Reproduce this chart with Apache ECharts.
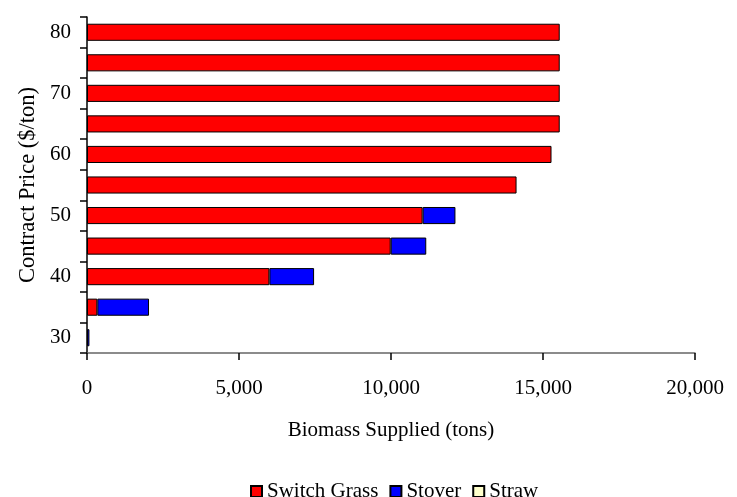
<!DOCTYPE html>
<html>
<head>
<meta charset="utf-8">
<script src="https://cdn.jsdelivr.net/npm/echarts@6/dist/echarts.min.js"></script>
<style>
  html, body { margin: 0; padding: 0; background: #fff; }
  #chart { width: 737px; height: 497px; }
</style>
</head>
<body>
<div id="chart"></div>
<script>
// Contract price levels ($/ton), bottom to top
const prices = ['30', '35', '40', '45', '50', '55', '60', '65', '70', '75', '80'];
// Biomass supplied at each price (tons), by feedstock
const switchGrass = [0, 340, 6000, 9990, 11040, 14130, 15280, 15550, 15550, 15550, 15550];
const stover      = [80, 1700, 1470, 1170, 1080, 0, 0, 0, 0, 0, 0];
const straw       = [0, 0, 0, 0, 0, 0, 0, 0, 0, 0, 0];
const xTicks = [0, 5000, 10000, 15000, 20000];

const FONT = '"Liberation Serif", "Times New Roman", serif';
const chart = echarts.init(document.getElementById('chart'), null, { renderer: 'canvas' });

const asBar = arr => arr.map(v => (v === 0 ? '-' : v));
const barStyle = color => ({ color: color, borderColor: '#000', borderWidth: 1 });

chart.setOption({
  animation: false,
  textStyle: { fontFamily: FONT, color: '#000' },
  grid: { left: 87, right: 42, top: 17, bottom: 144, containLabel: false },
  legend: {
    top: 476,
    left: 245,
    padding: 5,
    itemWidth: 11,
    itemHeight: 11,
    itemGap: 11,
    icon: 'rect',
    textStyle: { fontFamily: FONT, fontSize: 21, color: '#000' },
    data: ['Switch Grass', 'Stover', 'Straw']
  },
  xAxis: {
    type: 'value',
    min: xTicks[0],
    max: xTicks[xTicks.length - 1],
    interval: xTicks[1] - xTicks[0],
    name: 'Biomass Supplied (tons)',
    nameLocation: 'middle',
    nameGap: 67,
    nameTextStyle: { fontFamily: FONT, fontSize: 21, color: '#000' },
    axisLine: { show: true, lineStyle: { color: '#666', width: 1.5 } },
    axisTick: { show: true, inside: false, length: 7, lineStyle: { color: '#000', width: 1.5 } },
    axisLabel: {
      fontFamily: FONT, fontSize: 21, color: '#000', margin: 25,
      formatter: v => v.toLocaleString('en-US')
    },
    splitLine: { show: false }
  },
  yAxis: {
    type: 'category',
    data: prices,
    boundaryGap: true,
    name: 'Contract Price ($/ton)',
    nameLocation: 'middle',
    nameGap: 47,
    nameRotate: 90,
    nameTextStyle: { fontFamily: FONT, fontSize: 22.5, color: '#000' },
    axisLine: { show: true, lineStyle: { color: '#000', width: 1.5 } },
    axisTick: { show: true, interval: 0, length: 7, lineStyle: { color: '#000', width: 1.5 } },
    axisLabel: { fontFamily: FONT, fontSize: 21, color: '#000', margin: 16, interval: 1 },
    splitLine: { show: false }
  },
  series: [
    {
      name: 'Switch Grass', type: 'bar', stack: 'supply',
      barCategoryGap: '44%',
      itemStyle: barStyle('#ff0000'),
      data: asBar(switchGrass)
    },
    {
      name: 'Stover', type: 'bar', stack: 'supply',
      itemStyle: barStyle('#0000ff'),
      data: asBar(stover)
    },
    {
      name: 'Straw', type: 'bar', stack: 'supply',
      itemStyle: barStyle('#ffffcc'),
      data: asBar(straw)
    }
  ]
});
</script>
</body>
</html>
